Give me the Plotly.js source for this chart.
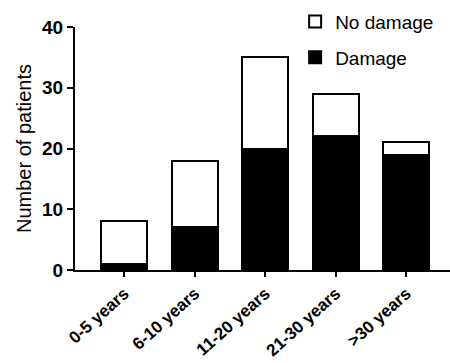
<!DOCTYPE html>
<html>
<head>
<meta charset="utf-8">
<script src="https://cdn.plot.ly/plotly-3.0.1.min.js"></script>
<style>html,body{margin:0;padding:0;background:#fff;}#chart{width:450px;height:363px;}</style>
</head>
<body>
<div id="chart"></div>
<script>
const categories = ["0-5 years", "6-10 years", "11-20 years", "21-30 years", ">30 years"];
const damage = [1, 7, 20, 22, 19];
const noDamage = [7, 11, 15, 7, 2];
const yTicks = [0, 10, 20, 30, 40];

const font = "Liberation Sans, Arial, sans-serif";

const traces = [
  {
    type: "bar", name: "Damage", x: categories, y: damage,
    marker: {color: "#000000", line: {color: "#000000", width: 2}},
    legendgroup: "a", legendrank: 2
  },
  {
    type: "bar", name: "No damage", x: categories, y: noDamage,
    marker: {color: "#ffffff", line: {color: "#000000", width: 2}},
    legendgroup: "b", legendrank: 1
  }
];

const layout = {
  width: 450, height: 363,
  margin: {l: 75, r: 0, t: 27, b: 93},
  paper_bgcolor: "#ffffff", plot_bgcolor: "#ffffff",
  barmode: "stack", bargap: 0.35,
  font: {family: font, color: "#000"},
  showlegend: true,
  legend: {
    x: 0.587, y: 1.1, xanchor: "left", yanchor: "top",
    traceorder: "grouped", tracegroupgap: 8,
    font: {family: font, size: 19, color: "#000"},
    bgcolor: "rgba(0,0,0,0)"
  },
  xaxis: {
    type: "category", range: [-0.7, 4.62],
    showline: true, linecolor: "#000", linewidth: 2,
    ticks: "outside", ticklen: 5, tickwidth: 2, tickcolor: "#000",
    tickangle: -42, tickfont: {family: font, size: 17, color: "#000", weight: "bold"},
    showgrid: false, zeroline: false, fixedrange: true
  },
  yaxis: {
    range: [0, 40], tickvals: yTicks,
    showline: true, linecolor: "#000", linewidth: 2,
    ticks: "outside", ticklen: 6, tickwidth: 2, tickcolor: "#000",
    tickfont: {family: font, size: 19, color: "#000", weight: "bold"},
    showgrid: false, zeroline: false,
    title: {text: "Number of patients", font: {family: font, size: 20, color: "#000"}, standoff: 5}
  }
};

Plotly.newPlot("chart", traces, layout, {displayModeBar: false, staticPlot: true});
</script>
</body>
</html>
